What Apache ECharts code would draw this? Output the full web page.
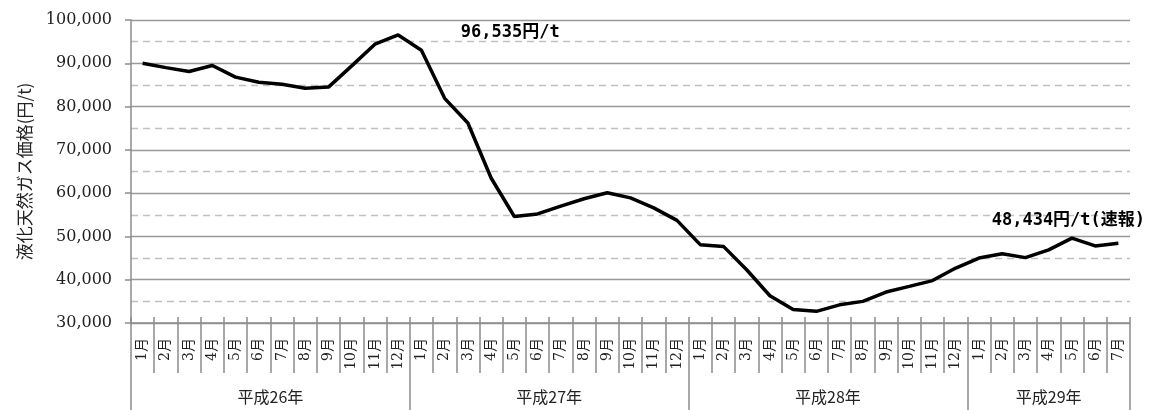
<!DOCTYPE html>
<html>
<head>
<meta charset="utf-8">
<script src="https://cdn.jsdelivr.net/npm/echarts@6/dist/echarts.min.js"></script>
<style>
  html, body { margin: 0; padding: 0; background: #fff; }
  #main { width: 1155px; height: 410px; }
</style>
</head>
<body>
<div id="main"></div>
<script>
// year groups and months shown under the axis
var yearLabels = ['平成26年', '平成27年', '平成28年', '平成29年'];
var yearCounts = [12, 12, 12, 7];

// monthly LNG price (円/t), H26.1 - H29.7
var prices = [
    90000, 89000, 88100, 89500, 86800, 85600, 85150, 84250, 84500, 89400, 94400, 96535,
    93000, 81900, 76200, 63500, 54600, 55200, 57000, 58700, 60100, 58900, 56600, 53700,
    48100, 47700, 42300, 36300, 33100, 32700, 34200, 35000, 37150, 38450, 39800, 42700,
    45000, 46000, 45100, 46900, 49600, 47800, 48434
];

var yTicks = [30000, 100000, 10000]; // min, max, interval

var categories = [];
var boundaries = [0];
var mids = [];
yearCounts.forEach(function (n, i) {
    for (var m = 1; m <= n; m++) categories.push(m + '月');
    var start = boundaries[boundaries.length - 1];
    boundaries.push(start + n);
    mids.push(start + n / 2);
});

function fmt(v) {
    return String(v).replace(/\B(?=(\d{3})+(?!\d))/g, ',');
}

var peakIdx = 11;
var lastIdx = prices.length - 1;

var chart = echarts.init(document.getElementById('main'));

var option = {
    animation: false,
    grid: { left: 131, right: 25, top: 20, bottom: 87 },
    xAxis: [
        {
            type: 'category',
            position: 'bottom',
            data: categories,
            boundaryGap: true,
            axisLine: { lineStyle: { color: '#8c8c8c', width: 1.5 } },
            axisTick: { show: true, interval: 0, length: 50, lineStyle: { color: '#8c8c8c', width: 1.5 } },
            axisLabel: {
                interval: 0,
                rotate: 90,
                margin: 15,
                fontSize: 14,
                color: '#222',
                fontFamily: '"DejaVu Serif", "Noto Sans CJK JP", serif'
            },
            splitLine: { show: false }
        },
        {
            type: 'category',
            position: 'bottom',
            data: categories,
            boundaryGap: true,
            axisLine: { show: false },
            axisTick: { show: true, inside: true, interval: 0, length: 6, lineStyle: { color: '#8c8c8c', width: 1.5 } },
            axisLabel: { show: false },
            splitLine: { show: false }
        },
        {
            type: 'value',
            position: 'bottom',
            min: 0,
            max: categories.length,
            axisLine: { show: false },
            axisTick: { show: true, customValues: boundaries, length: 87, lineStyle: { color: '#8c8c8c', width: 1.5 } },
            axisLabel: {
                customValues: mids,
                margin: 66,
                fontSize: 16,
                color: '#222',
                fontFamily: '"Noto Sans CJK JP", sans-serif',
                formatter: function (v) { return yearLabels[mids.indexOf(v)]; }
            },
            splitLine: { show: false }
        }
    ],
    yAxis: {
        type: 'value',
        min: yTicks[0],
        max: yTicks[1],
        interval: yTicks[2],
        name: '液化天然ガス価格(円/t)',
        nameLocation: 'middle',
        nameGap: 98,
        nameTextStyle: { fontSize: 17, color: '#222', fontFamily: '"Noto Sans CJK JP", sans-serif' },
        axisLine: { show: true, lineStyle: { color: '#8c8c8c', width: 1.5 } },
        axisTick: { show: true, length: 6, lineStyle: { color: '#8c8c8c', width: 1.5 } },
        axisLabel: {
            margin: 19,
            fontSize: 16,
            color: '#222',
            fontFamily: '"DejaVu Serif", serif',
            formatter: function (v) { return fmt(v); }
        },
        splitLine: { show: true, lineStyle: { color: '#999', width: 1.3 } },
        minorTick: { show: false, splitNumber: 2 },
        minorSplitLine: { show: true, lineStyle: { color: '#c0c0c0', width: 1.3, type: [7, 5] } }
    },
    series: [{
        type: 'line',
        data: prices,
        xAxisIndex: 0,
        yAxisIndex: 0,
        showSymbol: false,
        symbol: 'none',
        lineStyle: { color: '#000', width: 3.5 },
        markPoint: {
            symbol: 'circle',
            symbolSize: 0,
            itemStyle: { color: 'rgba(0,0,0,0)' },
            label: {
                show: true,
                position: 'inside',
                color: '#000',
                fontWeight: 'bold',
                fontSize: 17,
                fontFamily: '"DejaVu Sans Mono", "Noto Sans CJK JP", monospace'
            },
            data: [
                {
                    coord: [peakIdx, prices[peakIdx]],
                    label: { formatter: fmt(prices[peakIdx]) + '円/t', offset: [112, -2] }
                },
                {
                    coord: [lastIdx, prices[lastIdx]],
                    label: { formatter: fmt(prices[lastIdx]) + '円/t(速報)', offset: [-50, -23] }
                }
            ]
        }
    }]
};

chart.setOption(option);
</script>
</body>
</html>
